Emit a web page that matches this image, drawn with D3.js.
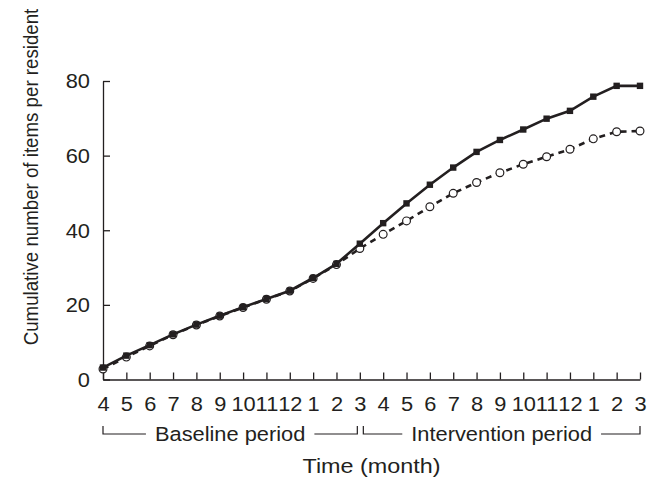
<!DOCTYPE html>
<html>
<head>
<meta charset="utf-8">
<script src="https://cdn.jsdelivr.net/npm/d3@7"></script>
<style>
  html, body { margin: 0; padding: 0; background: #fff; }
  svg { display: block; }
  text { font-family: "Liberation Sans", Arial, sans-serif; fill: #231f20; }
</style>
</head>
<body>
<svg id="chart" width="657" height="480"></svg>
<script>
// ---- data ----
const monthLabels = ["4","5","6","7","8","9","10","11","12","1","2","3",
                     "4","5","6","7","8","9","10","11","12","1","2","3"];
const seriesSolid = [3.2, 6.4, 9.2, 12.1, 14.7, 17.1, 19.4, 21.6, 23.8, 27.2, 31.0, 36.4,
                     41.9, 47.2, 52.2, 56.8, 61.0, 64.2, 67.0, 69.9, 72.0, 75.8, 78.7, 78.7];
const seriesOpen  = [2.8, 6.0, 9.0, 12.0, 14.6, 17.0, 19.3, 21.5, 23.7, 27.1, 30.8, 35.1,
                     38.9, 42.5, 46.3, 49.9, 52.8, 55.4, 57.7, 59.7, 61.7, 64.5, 66.4, 66.6];
const yTicks = [0, 20, 40, 60, 80];
// brackets span between month indices (start, end)
const periods = [
  { label: "Baseline period", from: 0, to: 11 },
  { label: "Intervention period", from: 11, to: 23 }
];
const yTitle = "Cumulative number of items per resident";
const xTitle = "Time (month)";

// ---- layout ----
const svg = d3.select("#chart");
const SX = 1.12;            // horizontal stretch of the original figure's text
const FS = 19.5;
const ink = "#231f20";

const x = d3.scalePoint().domain(d3.range(monthLabels.length)).range([103, 640]);
const y = d3.scaleLinear().domain([0, 80]).range([379.5, 81]);

// axes
const xAxis = d3.axisBottom(x)
  .tickFormat(i => monthLabels[i])
  .tickSizeInner(-7).tickSizeOuter(0).tickPadding(18);
const gx = svg.append("g").attr("transform", `translate(0,${y(0)})`).call(xAxis);

const yAxis = d3.axisLeft(y)
  .tickValues(yTicks)
  .tickSizeInner(-7).tickSizeOuter(0).tickPadding(11.6);
const gy = svg.append("g").attr("transform", `translate(${x(0)},0)`).call(yAxis);

[gx, gy].forEach(g => {
  g.select(".domain").attr("stroke", ink).attr("stroke-width", 1.3);
  g.selectAll(".tick line").attr("stroke", ink).attr("stroke-width", 1.3);
  g.selectAll(".tick text")
    .attr("font-size", FS)
    .attr("font-family", "Liberation Sans, Arial, sans-serif")
    .attr("fill", ink)
    .attr("transform", `scale(${SX},1)`);
});
gy.selectAll(".tick text").attr("dy", "0.35em");

// series
const lineGen = d3.line().x((d, i) => x(i)).y(d => y(d));

svg.append("path")
  .datum(seriesOpen)
  .attr("d", lineGen)
  .attr("fill", "none")
  .attr("stroke", ink)
  .attr("stroke-width", 2.6)
  .attr("stroke-dasharray", "6,5");

svg.append("g").selectAll("circle")
  .data(seriesOpen)
  .join("circle")
  .attr("cx", (d, i) => x(i))
  .attr("cy", d => y(d))
  .attr("r", 3.9)
  .attr("fill", "#fff")
  .attr("stroke", ink)
  .attr("stroke-width", 1.2);

svg.append("path")
  .datum(seriesSolid)
  .attr("d", lineGen)
  .attr("fill", "none")
  .attr("stroke", ink)
  .attr("stroke-width", 2.6);

const sq = 6.4;
svg.append("g").selectAll("rect")
  .data(seriesSolid)
  .join("rect")
  .attr("x", (d, i) => x(i) - sq / 2)
  .attr("y", d => y(d) - sq / 2)
  .attr("width", sq)
  .attr("height", sq)
  .attr("fill", ink);

// period brackets
const bTop = 426, bLine = 434, gap = 9;
periods.forEach((p, k) => {
  const x0 = k === 0 ? x(p.from) : x(p.from) + 3.5;
  const x1 = k === 0 ? x(p.to) - 2.5 : x(p.to);
  const cx = (x0 + x1) / 2;
  const t = svg.append("text")
    .attr("transform", `translate(${cx},${bLine}) scale(${SX},1)`)
    .attr("text-anchor", "middle")
    .attr("dy", "0.35em")
    .attr("font-size", FS)
    .text(p.label);
  const w = t.node().getComputedTextLength() * SX;
  const path = d3.path();
  path.moveTo(x0, bTop); path.lineTo(x0, bLine); path.lineTo(cx - w / 2 - gap, bLine);
  path.moveTo(cx + w / 2 + gap, bLine); path.lineTo(x1, bLine); path.lineTo(x1, bTop);
  svg.append("path").attr("d", path.toString())
    .attr("fill", "none").attr("stroke", ink).attr("stroke-width", 1.2);
});

// axis titles
svg.append("text")
  .attr("transform", `translate(${(x.range()[0] + x.range()[1]) / 2},473) scale(1.14,1)`)
  .attr("text-anchor", "middle")
  .attr("font-size", 20.5)
  .text(xTitle);

svg.append("text")
  .attr("transform", `translate(38,177) scale(${SX},1) rotate(-90)`)
  .attr("text-anchor", "middle")
  .attr("font-size", 18.7)
  .text(yTitle);
</script>
</body>
</html>
